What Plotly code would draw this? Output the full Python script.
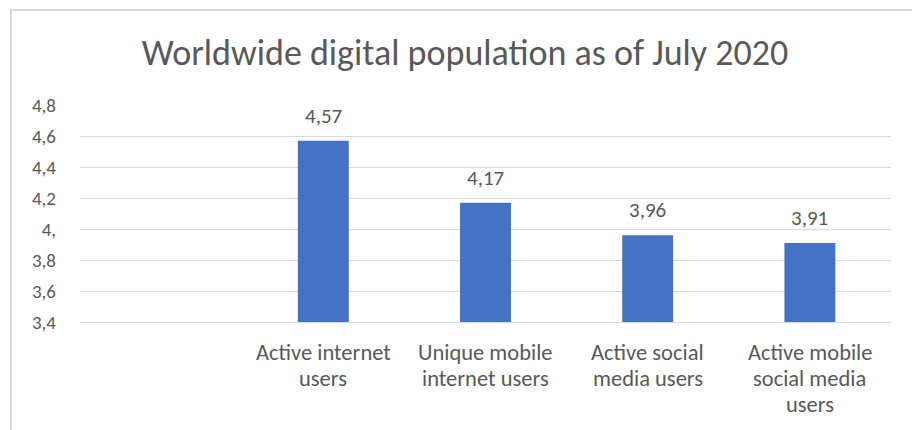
import plotly.graph_objects as go

categories = [
    "Active internet<br>users",
    "Unique mobile<br>internet users",
    "Active social<br>media users",
    "Active mobile<br>social media<br>users",
]
values = [4.57, 4.17, 3.96, 3.91]
tick_vals = [3.4, 3.6, 3.8, 4.0, 4.2, 4.4, 4.6, 4.8]
tick_text = ["3,4", "3,6", "3,8", "4,", "4,2", "4,4", "4,6", "4,8"]
title_text = "Worldwide digital population as of July 2020"

FONT = "Carlito, Lato, sans-serif"
GRAY = "#595959"
GRID = "#D9D9D9"

fig = go.Figure()
fig.add_trace(go.Bar(
    x=categories, y=values,
    marker=dict(color="#4472C4", line=dict(width=0)),
    width=0.314,
    hoverinfo="skip",
))

# data labels
for c, v in zip(categories, values):
    fig.add_annotation(
        x=c, y=v, xref="x", yref="y",
        text=f"{v:.2f}".replace(".", ","),
        showarrow=False, yanchor="bottom", yshift=10,
        font=dict(family=FONT, size=21, color=GRAY),
    )

# category labels, one annotation per line for Excel-like line spacing
LINE_SHIFTS = [-30, -56.5, -82.5]
for c in categories:
    for i, line in enumerate(c.split("<br>")):
        fig.add_annotation(
            x=c, y=0, xref="x", yref="paper",
            text=line, showarrow=False, yanchor="middle",
            yshift=LINE_SHIFTS[i],
            font=dict(family=FONT, size=22.5, color=GRAY),
        )

L, R, T, B = 80, 21, 105, 108
W, H = 912, 430
pw, ph = W - L - R, H - T - B

def px_x(p):
    return (p - L) / pw

def px_y(p):
    return (H - B - p) / ph

fig.add_shape(
    type="rect", xref="paper", yref="paper",
    x0=px_x(11), x1=px_x(W + 10), y0=px_y(H + 10), y1=px_y(10),
    line=dict(color=GRID, width=2), fillcolor="rgba(0,0,0,0)", layer="below",
)

fig.update_layout(
    width=W, height=H,
    margin=dict(l=L, r=R, t=T, b=B),
    paper_bgcolor="white", plot_bgcolor="white",
    showlegend=False,
    separators=", ",
    title=dict(
        text=title_text, x=465 / W, xanchor="center", xref="container",
        y=1 - 52 / H, yanchor="middle", yref="container",
        font=dict(family=FONT, size=36, color=GRAY),
    ),
    xaxis=dict(
        type="category", range=[-1.5, 3.5],
        showgrid=False, showline=True, linecolor=GRID, linewidth=1,
        ticks="", showticklabels=False,
    ),
    yaxis=dict(
        range=[3.4, 4.8], tickvals=tick_vals, ticktext=tick_text,
        showgrid=True, gridcolor=GRID, gridwidth=1,
        zeroline=False, showline=False, ticks="",
        tickfont=dict(family=FONT, size=19, color=GRAY),
        ticklabelstandoff=23,
    ),
)

fig.write_html("out.html")
